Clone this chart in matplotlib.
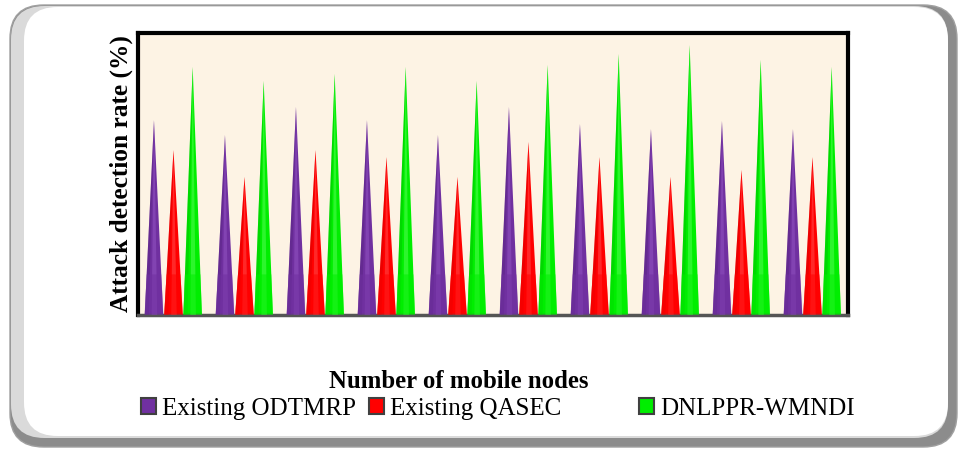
import matplotlib
matplotlib.use("Agg")
import matplotlib.pyplot as plt
import numpy as np
from matplotlib.patches import FancyBboxPatch, Patch

groups = list(range(1, 11))
series_names = ["Existing ODTMRP", "Existing QASEC", "DNLPPR-WMNDI"]
odtmrp = [69.6, 64.3, 74.3, 69.6, 64.3, 74.3, 68.2, 66.4, 69.3, 66.4]
qasec = [58.9, 49.3, 58.9, 56.4, 49.3, 61.8, 56.4, 49.3, 51.8, 56.4]
dnlppr = [88.6, 83.6, 86.1, 88.6, 83.6, 89.3, 93.2, 96.4, 91.1, 88.6]
colors = ["#7030A0", "#FF0000", "#00EE00"]
light = ["#9A5CC8", "#FF5A5A", "#66FF66"]
dark = ["#4E1F75", "#C80000", "#00B000"]

W, H = 958, 450
fig = plt.figure(figsize=(W / 100, H / 100), dpi=100)

# panel with shadow
def fbox(x0, y0, x1, y1, **kw):
    p = FancyBboxPatch((x0 / W, 1 - y1 / H), (x1 - x0) / W, (y1 - y0) / H,
                       boxstyle="round,pad=0,rounding_size=0.035",
                       transform=fig.transFigure, mutation_aspect=W / H, zorder=-5, **kw)
    fig.patches.append(p)

fbox(10, 5, 957, 447, facecolor="#8C8C8C", edgecolor="#A0A0A0", lw=1)
fbox(11, 6, 948, 438, facecolor="#DADADA", edgecolor="none")
fbox(24, 7, 948, 436, facecolor="white", edgecolor="none")

ax = fig.add_axes([138 / W, 1 - 315 / H, 710 / W, 282 / H])
ax.set_zorder(5)
ax.set_facecolor("#FDF3E4")
ax.set_xlim(-0.5, len(groups) - 0.5)
ax.set_ylim(0, 100.7)

offsets = [-0.275, 0.0, 0.27]
hw = 0.13
band = 14.5
for si, vals in enumerate([odtmrp, qasec, dnlppr]):
    for gi, v in enumerate(vals):
        xc = gi + offsets[si]
        ax.fill([xc - hw, xc + hw, xc], [0, 0, v], color=colors[si], lw=0, zorder=2)
        ax.fill([xc - hw, xc - hw * 0.55, xc], [0, 0, v], color=dark[si], lw=0, zorder=3, alpha=0.35)
        ax.fill([xc - hw * 0.25, xc + hw * 0.35, xc], [0, 0, v], color=light[si], lw=0, zorder=3, alpha=0.45)
        k = 1 - band / v
        ax.fill([xc - hw * 1.02, xc + hw * 1.02, xc + hw * k, xc - hw * k], [0, 0, band, band],
                color=colors[si], lw=0, zorder=4, alpha=0.55)

ax.set_xticks([])
ax.set_yticks([])
for s in ["left", "top", "right"]:
    ax.spines[s].set_linewidth(3)
    ax.spines[s].set_color("black")
ax.spines["bottom"].set_linewidth(2.5)
ax.spines["bottom"].set_color("#555555")

serif = ["Liberation Serif", "DejaVu Serif"]
fig.text(121 / W, 1 - 174 / H, "Attack detection rate (%)", rotation=90, ha="center", va="center",
         fontsize=18.3, fontweight="bold", family=serif)
fig.text(459 / W, 1 - 382 / H, "Number of mobile nodes", ha="center", va="center",
         fontsize=17.8, fontweight="bold", family=serif)

legend_x = [141, 369, 639]
for name, c, lx in zip(series_names, colors, legend_x):
    lg = fig.legend([Patch(facecolor=c, edgecolor="#404040", lw=1.5)], [name], loc="center left",
                    bbox_to_anchor=(lx / W, 1 - 409 / H), frameon=False, borderpad=0, borderaxespad=0,
                    handlelength=0.6, handleheight=0.6, handletextpad=0.25,
                    prop={"family": serif, "size": 18})

fig.savefig("out.png", dpi=100)
